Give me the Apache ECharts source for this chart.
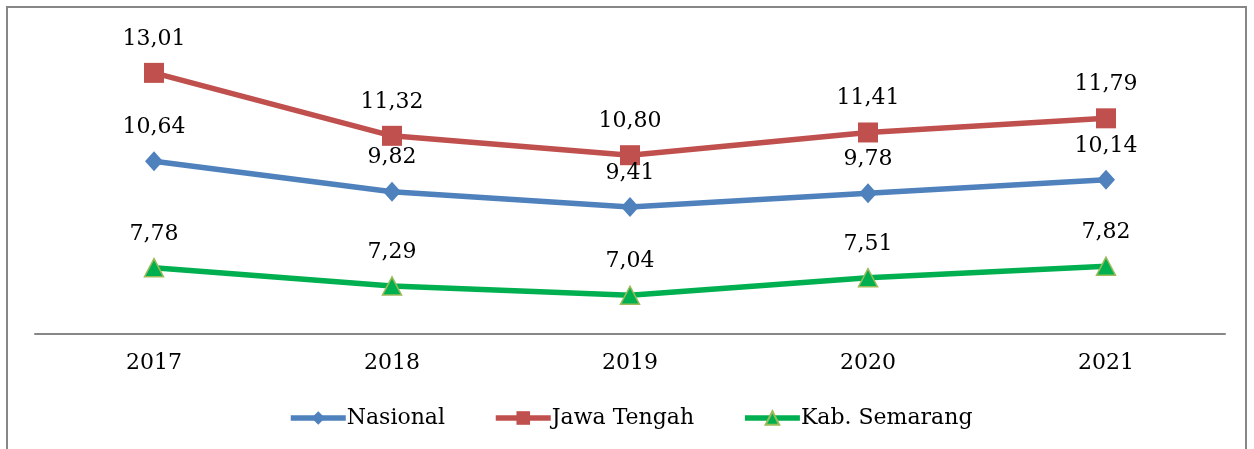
<!DOCTYPE html>
<html>
<head>
<meta charset="utf-8">
<script src="https://cdn.jsdelivr.net/npm/echarts@6/dist/echarts.min.js"></script>
<style>
  html, body { margin: 0; padding: 0; background: #fff; }
  #chart { width: 1254px; height: 449px; }
</style>
</head>
<body>
<div id="chart"></div>
<script>
var years = ['2017', '2018', '2019', '2020', '2021'];
var nasional = [10.64, 9.82, 9.41, 9.78, 10.14];
var jawaTengah = [13.01, 11.32, 10.80, 11.41, 11.79];
var kabSemarang = [7.78, 7.29, 7.04, 7.51, 7.82];

var fontFam = '"DejaVu Serif", "Liberation Serif", serif';

function fmt(p) {
    return p.value.toFixed(2).replace('.', ',');
}

var chart = echarts.init(document.getElementById('chart'));

// label settings shared by the three lines
var lbl = {
    show: true,
    position: 'top',
    distance: 13,
    formatter: fmt,
    color: '#000',
    fontFamily: fontFam,
    fontSize: 22
};

var option = {
    animation: false,
    graphic: [{
        type: 'rect',
        shape: { x: 7, y: 7, width: 1239, height: 470 },
        style: { fill: 'none', stroke: '#878787', lineWidth: 2 },
        silent: true
    }],
    grid: { left: 35, right: 29, top: 36, bottom: 115 },
    legend: {
        top: 402,
        left: 283,
        itemWidth: 55,
        itemHeight: 17,
        itemGap: 48,
        lineStyle: { width: 5.5 },
        textStyle: { fontFamily: fontFam, fontSize: 22, color: '#000', padding: [0, 0, 0, -4] },
        data: ['Nasional', 'Jawa Tengah', 'Kab. Semarang']
    },
    xAxis: {
        type: 'category',
        data: years,
        boundaryGap: true,
        axisLine: { lineStyle: { color: '#868686', width: 2 } },
        axisTick: { show: false },
        axisLabel: { color: '#000', fontFamily: fontFam, fontSize: 22, margin: 18 }
    },
    yAxis: {
        type: 'value',
        min: 6,
        max: 14,
        show: false,
        splitLine: { show: false }
    },
    series: [
        {
            name: 'Nasional',
            type: 'line',
            data: nasional,
            symbol: 'diamond',
            symbolSize: [18, 20],
            lineStyle: { color: '#4F81BD', width: 5.5 },
            itemStyle: { color: '#4F81BD' },
            label: lbl
        },
        {
            name: 'Jawa Tengah',
            type: 'line',
            data: jawaTengah,
            symbol: 'rect',
            symbolSize: 20,
            lineStyle: { color: '#C0504D', width: 5.5 },
            itemStyle: { color: '#C0504D' },
            label: lbl
        },
        {
            name: 'Kab. Semarang',
            type: 'line',
            data: kabSemarang,
            symbol: 'triangle',
            symbolSize: [19, 18],
            lineStyle: { color: '#00B050', width: 5.5 },
            itemStyle: { color: '#00B050', borderColor: '#9BBB59', borderWidth: 1.5 },
            label: lbl
        }
    ]
};

chart.setOption(option);
</script>
</body>
</html>
